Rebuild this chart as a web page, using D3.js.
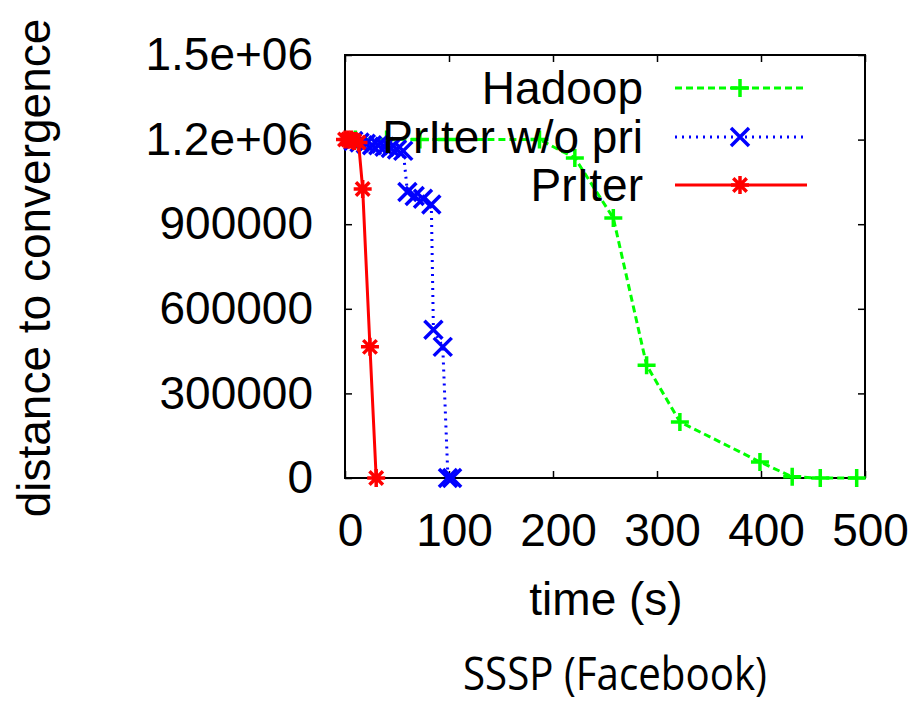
<!DOCTYPE html>
<html lang="en">
<head>
    <meta charset="UTF-8">
    <title>SSSP (Facebook)</title>
    <style>
        body { margin: 0; background: #fff; }
        text { font-family: "Liberation Sans", Arial, sans-serif; }
    </style>
</head>
<body>
    <script src="https://d3js.org/d3.v7.min.js"></script>
    <script>
        const width = 915;
        const height = 703;

        // data
        const timeTicks = [0, 100, 200, 300, 400, 500];
        const distTicks = [0, 300000, 600000, 900000, 1200000, 1500000];
        const distLabels = ["0", "300000", "600000", "900000", "1.2e+06", "1.5e+06"];

        const seriesNames = ["Hadoop", "PrIter w/o pri", "PrIter"];
        const seriesColors = ["#00ff00", "#0000ff", "#ff0000"];

        const hadoopTime = [10, 40, 72, 98, 187, 221, 258, 290, 322, 399, 430, 457, 492];
        const hadoopDist = [1200000, 1200000, 1200000, 1200000, 1200000, 1135000, 922000, 400000, 199000, 57000, 4000, 0, 0];

        const noPriTime = [8, 14, 20, 26, 32, 38, 44, 50, 56, 60, 67, 75, 83, 85, 94, 99, 103];
        const noPriDist = [1195000, 1190000, 1185000, 1180000, 1180000, 1175000, 1170000, 1165000, 1160000, 1014000, 1000000, 990000, 970000, 526000, 465000, 0, 0];

        const priterTime = [0, 3, 6, 9, 13, 17, 24, 30];
        const priterDist = [1200000, 1200000, 1200000, 1195000, 1190000, 1025000, 465000, 0];

        const series = [
            { time: hadoopTime, dist: hadoopDist, dash: "7,4", marker: "plus" },
            { time: noPriTime, dist: noPriDist, dash: "2,5", marker: "cross" },
            { time: priterTime, dist: priterDist, dash: null, marker: "star" }
        ];

        const x = d3.scaleLinear().domain([0, 500]).range([345, 865]);
        const y = d3.scaleLinear().domain([0, 1500000]).range([478, 55]);

        const svg = d3.select("body")
            .append("svg")
            .attr("width", width)
            .attr("height", height);

        // marker shapes (gnuplot points 1, 2, 3)
        const s = 9;
        const markerPath = {
            plus: `M${-s},0H${s}M0,${-s}V${s}`,
            cross: `M${-s},${-s}L${s},${s}M${-s},${s}L${s},${-s}`,
            star: `M${-s},0H${s}M0,${-s}V${s}M${-s*0.75},${-s*0.75}L${s*0.75},${s*0.75}M${-s*0.75},${s*0.75}L${s*0.75},${-s*0.75}`
        };

        // axes with inward ticks
        const tickLen = 7;
        const xAxis = svg.append("g")
            .attr("transform", "translate(0," + y(0) + ")")
            .call(d3.axisBottom(x).tickValues(timeTicks).tickSizeInner(-tickLen).tickSizeOuter(0).tickPadding(35));
        xAxis.selectAll("text").attr("dx", 5);

        svg.append("g")
            .attr("transform", "translate(0," + y(1500000) + ")")
            .call(d3.axisTop(x).tickValues(timeTicks).tickSizeInner(-tickLen).tickSizeOuter(0).tickFormat(""));

        svg.append("g")
            .attr("transform", "translate(" + x(0) + ",0)")
            .call(d3.axisLeft(y).tickValues(distTicks).tickSizeInner(-tickLen).tickSizeOuter(0).tickPadding(32)
                .tickFormat((d, i) => distLabels[i]));

        svg.append("g")
            .attr("transform", "translate(" + x(500) + ",0)")
            .call(d3.axisRight(y).tickValues(distTicks).tickSizeInner(-tickLen).tickSizeOuter(0).tickFormat(""));

        svg.selectAll(".domain").remove();
        svg.selectAll(".tick line").attr("stroke", "#000").attr("stroke-width", 1.5);
        svg.selectAll(".tick text")
            .attr("fill", "#000")
            .style("font-size", "46px")
            .style("font-family", "'Liberation Sans', Arial, sans-serif");

        // frame
        svg.append("rect")
            .attr("x", x(0))
            .attr("y", y(1500000))
            .attr("width", x(500) - x(0))
            .attr("height", y(0) - y(1500000))
            .attr("fill", "none")
            .attr("stroke", "#000")
            .attr("stroke-width", 2);

        // lines and markers
        const line = d3.line()
            .x(d => x(d[0]))
            .y(d => y(d[1]));

        series.forEach((sr, i) => {
            const pts = sr.time.map((t, j) => [t, sr.dist[j]]);
            const g = svg.append("g");
            g.append("path")
                .datum(pts)
                .attr("d", line)
                .attr("fill", "none")
                .attr("stroke", seriesColors[i])
                .attr("stroke-width", 3)
                .attr("stroke-dasharray", sr.dash);
            g.selectAll("path.pt")
                .data(pts)
                .enter()
                .append("path")
                .attr("class", "pt")
                .attr("transform", d => "translate(" + x(d[0]) + "," + y(d[1]) + ")")
                .attr("d", markerPath[sr.marker])
                .attr("fill", "none")
                .attr("stroke", seriesColors[i])
                .attr("stroke-width", 3.5);
        });

        // key
        const keyRowY = [88, 137, 185];
        const key = svg.append("g");
        series.forEach((sr, i) => {
            key.append("text")
                .attr("x", 643)
                .attr("y", keyRowY[i])
                .attr("dy", "0.35em")
                .attr("text-anchor", "end")
                .style("font-size", "46px")
                .text(seriesNames[i]);
            key.append("line")
                .attr("x1", 675).attr("x2", 807)
                .attr("y1", keyRowY[i]).attr("y2", keyRowY[i])
                .attr("stroke", seriesColors[i])
                .attr("stroke-width", 3)
                .attr("stroke-dasharray", sr.dash);
            key.append("path")
                .attr("transform", "translate(740," + keyRowY[i] + ")")
                .attr("d", markerPath[sr.marker])
                .attr("fill", "none")
                .attr("stroke", seriesColors[i])
                .attr("stroke-width", 3.5);
        });

        // axis titles
        svg.append("text")
            .attr("x", 606)
            .attr("y", 615)
            .attr("text-anchor", "middle")
            .style("font-size", "46px")
            .text("time (s)");

        svg.append("text")
            .attr("transform", "translate(50,268) rotate(-90)")
            .attr("text-anchor", "middle")
            .style("font-size", "46px")
            .text("distance to convergence");

        svg.append("text")
            .attr("x", 615)
            .attr("y", 690)
            .attr("text-anchor", "middle")
            .attr("textLength", 304)
            .attr("lengthAdjust", "spacingAndGlyphs")
            .style("font-family", "'Open Sans', Lato, sans-serif")
            .style("font-size", "45px")
            .text("SSSP (Facebook)");
    </script>
</body>
</html>
